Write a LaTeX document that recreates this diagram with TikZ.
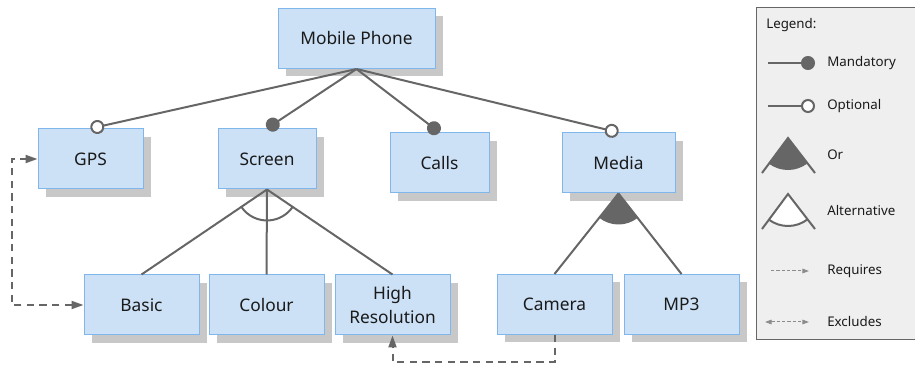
\documentclass[tikz,border=0pt]{standalone}
\usepackage{fontspec}
\setmainfont{Noto Sans}
\usetikzlibrary{arrows.meta,shadows}

\definecolor{featfill}{HTML}{CCE1F6}
\definecolor{featline}{HTML}{7FB6EC}
\definecolor{edgegrey}{HTML}{666666}
\definecolor{shadegrey}{HTML}{C8C8C8}
\definecolor{legendfill}{HTML}{EFEFEF}
\definecolor{inkgrey}{HTML}{1A1A1A}

\tikzset{
  feature/.style={draw=featline, fill=featfill, line width=0.75pt,
    minimum height=45pt, inner sep=0pt, align=center, text=inkgrey,
    font=\fontsize{13}{18}\selectfont,
    drop shadow={shadow xshift=6pt, shadow yshift=-6pt, fill=shadegrey, opacity=1}},
  featedge/.style={draw=edgegrey, line width=1.5pt},
  mandatory/.style={featedge, -{Circle[length=10.5pt, fill=edgegrey]}},
  optional/.style={featedge, -{Circle[open, length=10.5pt, fill=white]}},
  requires/.style={featedge, dash pattern=on 5.5pt off 4pt, -{Triangle[length=9pt, width=6pt]}},
  excludes/.style={requires, {Triangle[length=9pt, width=6pt]}-{Triangle[length=9pt, width=6pt]}},
  legendtext/.style={anchor=west, inner sep=0pt, text=inkgrey, font=\fontsize{10}{12}\selectfont},
  legendlink/.style={draw=edgegrey!75, line width=0.75pt, dash pattern=on 2.5pt off 1.5pt},
}

\begin{document}
\begin{tikzpicture}[x=0.75pt, y=-0.75pt]
  \useasboundingbox (0,0) rectangle (915,367);

  % features
  \node[feature, minimum width=117.75pt] (phone) at (356.5,38.5) {Mobile Phone};
  \node[feature, minimum width=78.75pt] (gps) at (90.5,159) {GPS};
  \node[feature, minimum width=73.5pt] (screen) at (267,159) {Screen};
  \node[feature, minimum width=74.25pt] (calls) at (439.5,163) {Calls};
  \node[feature, minimum width=84.75pt] (media) at (618.5,163) {Media};
  \node[feature, minimum width=86.25pt] (basic) at (141.5,305) {Basic};
  \node[feature, minimum width=86.25pt] (colour) at (266.5,305) {Colour};
  \node[feature, minimum width=86.25pt] (hires) at (392.5,305) {High\\Resolution};
  \node[feature, minimum width=86.25pt] (camera) at (554.5,304.5) {Camera};
  \node[feature, minimum width=86.25pt] (mp3) at (681.5,304.5) {MP3};

  % mandatory / optional children
  \draw[optional] (phone.south) -- (gps.north);
  \draw[mandatory] (phone.south) -- (screen.north);
  \draw[mandatory] (phone.south) -- (calls.north);
  \draw[optional] (phone.south) -- (media.north);

  % alternative group
  \draw[featedge] (screen.south) -- (basic.north);
  \draw[featedge] (screen.south) -- (colour.north);
  \draw[featedge] (screen.south) -- (hires.north);
  \draw[featedge] (screen.south) ++(214.4:23.25pt) arc[start angle=214.4, end angle=325.6, radius=23.25pt];

  % or group
  \fill[edgegrey] (media.south) -- ++(231.9:23.25pt) arc[start angle=231.9, end angle=307.7, radius=23.25pt] -- cycle;
  \draw[featedge] (media.south) -- (camera.north);
  \draw[featedge] (media.south) -- (mp3.north);

  % cross-tree constraints
  \draw[excludes] (basic.west) -- ++(-72,0) |- (gps.west);
  \draw[requires] (camera.south) -- ++(0,27) -| (hires.south);

  % legend
  \draw[draw=edgegrey, fill=legendfill, line width=0.75pt] (756,8) rectangle (920,340);
  \node[legendtext] (legtitle) at (766,25) {Legend:};

  \draw[featedge, -{Circle[length=10.5pt, fill=edgegrey]}] (768,63) -- (815,63);
  \node[legendtext] (legmand) at (827,63) {Mandatory};

  \draw[featedge, -{Circle[open, length=10.5pt, fill=white]}] (768,106) -- (815,106);
  \node[legendtext] (legopt) at (827,106) {Optional};

  \fill[edgegrey] (788,138) -- ++(233.4:24pt) arc[start angle=233.4, end angle=307.6, radius=24pt] -- cycle;
  \draw[featedge] (762,173) -- (788,138) -- (815,173);
  \node[legendtext] (legor) at (827,155) {Or};

  \fill[white] (788,194) -- ++(233.4:24pt) arc[start angle=233.4, end angle=307.6, radius=24pt] -- cycle;
  \draw[featedge] (788,194) ++(233.4:24pt) arc[start angle=233.4, end angle=307.6, radius=24pt];
  \draw[featedge] (762,229) -- (788,194) -- (815,229);
  \node[legendtext] (legalt) at (827,211) {Alternative};

  \draw[legendlink, -{Triangle[length=5pt, width=3.5pt]}] (771,271) -- (809,271);
  \node[legendtext] (legreq) at (827,271) {Requires};

  \draw[legendlink, {Triangle[length=5pt, width=3.5pt]}-{Triangle[length=5pt, width=3.5pt]}] (765,322) -- (809,322);
  \node[legendtext] (legexc) at (827,322) {Excludes};
\end{tikzpicture}
\end{document}
